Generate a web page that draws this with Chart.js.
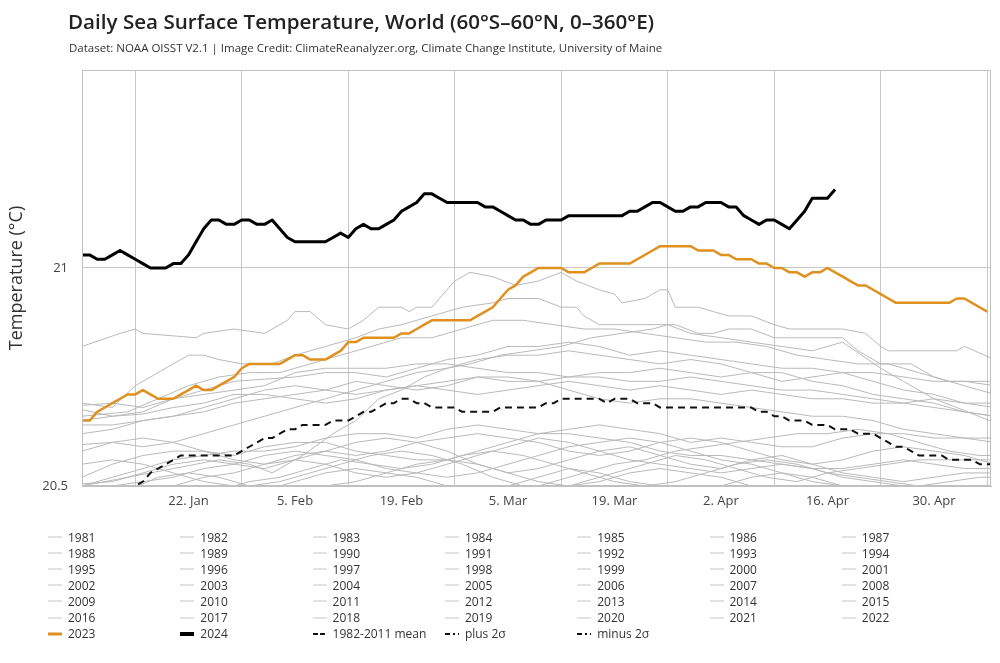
<!DOCTYPE html>
<html><head><meta charset="utf-8">
<script src="https://cdn.jsdelivr.net/npm/chart.js@4.4.1/dist/chart.umd.min.js"></script>
<style>
html,body{margin:0;padding:0;background:#fff;}
#wrap{position:relative;width:1000px;height:663px;overflow:hidden;font-family:'Open Sans',sans-serif;}
#c{position:absolute;left:0;top:0;}
#title{position:absolute;left:68px;top:7px;font-size:20.6px;font-weight:600;color:#222;white-space:nowrap;}
#sub{position:absolute;left:69px;top:40px;font-size:11.5px;color:#333;white-space:nowrap;}
#legend{position:absolute;left:0;top:0;width:1000px;height:663px;pointer-events:none;}
.li{position:absolute;font-size:12px;color:#333;white-space:nowrap;display:flex;align-items:center;height:16px;}
.li svg{margin-right:6px;display:block;}
</style></head>
<body>
<div id="wrap">
<canvas id="c" width="1000" height="663"></canvas>
<div id="title">Daily Sea Surface Temperature, World (60°S–60°N, 0–360°E)</div>
<div id="sub">Dataset: NOAA OISST V2.1 | Image Credit: ClimateReanalyzer.org, Climate Change Institute, University of Maine</div>
<div id="legend"></div>
</div>
<script>
// ---- x axis (day of year, non-leap calendar) ----
const xMin = 8, xMax = 127.5;
const gridDays = [15,29,43,57,71,85,99,113,127];
const tickDays = [22,36,50,64,78,92,106,120];
const tickLabels = ['22. Jan','5. Feb','19. Feb','5. Mar','19. Mar','2. Apr','16. Apr','30. Apr'];
const yMin = 20.5, yMax = 21.454;
const yTicks = [20.5, 21];

// ---- daily series ----
const start2024 = 8;
const sst2024 = [21.03,21.03,21.02,21.02,21.03,21.04,21.03,21.02,21.01,21.00,21.00,21.00,21.01,21.01,21.03,21.06,21.09,21.11,21.11,21.10,
21.10,21.11,21.11,21.10,21.10,21.11,21.09,21.07,21.06,21.06,21.06,21.06,21.06,21.07,21.08,21.07,21.09,21.10,21.09,21.09,
21.10,21.11,21.13,21.14,21.15,21.17,21.17,21.16,21.15,21.15,21.15,21.15,21.15,21.14,21.14,21.13,21.12,21.11,21.11,21.10,
21.10,21.11,21.11,21.11,21.12,21.12,21.12,21.12,21.12,21.12,21.12,21.12,21.13,21.13,21.14,21.15,21.15,21.14,21.13,21.13,
21.14,21.14,21.15,21.15,21.15,21.14,21.14,21.12,21.11,21.10,21.11,21.11,21.10,21.09,21.11,21.13,21.16,21.16,21.16,21.18];

const start2023 = 8;
const sst2023 = [20.65,20.65,20.67,20.68,20.69,20.70,20.71,20.71,20.72,20.71,20.70,20.70,20.70,20.71,20.72,20.73,20.72,20.72,20.73,20.74,
20.75,20.77,20.78,20.78,20.78,20.78,20.78,20.79,20.80,20.80,20.79,20.79,20.79,20.80,20.81,20.83,20.83,20.84,20.84,20.84,
20.84,20.84,20.85,20.85,20.86,20.87,20.88,20.88,20.88,20.88,20.88,20.88,20.89,20.90,20.91,20.93,20.95,20.96,20.98,20.99,
21.00,21.00,21.00,21.00,20.99,20.99,20.99,21.00,21.01,21.01,21.01,21.01,21.01,21.02,21.03,21.04,21.05,21.05,21.05,21.05,
21.05,21.04,21.04,21.04,21.03,21.03,21.02,21.02,21.02,21.01,21.01,21.00,21.00,20.99,20.99,20.98,20.99,20.99,21.00,20.99,
20.98,20.97,20.96,20.96,20.95,20.94,20.93,20.92,20.92,20.92,20.92,20.92,20.92,20.92,20.92,20.93,20.93,20.92,20.91,20.90];

const startMean = 14;
const mean8211 = [20.49,20.50,20.51,20.53,20.54,20.55,20.56,20.57,20.57,20.57,20.57,20.57,20.57,20.57,20.57,20.58,20.59,20.60,20.61,20.61,
20.62,20.63,20.63,20.64,20.64,20.64,20.64,20.65,20.65,20.65,20.66,20.67,20.67,20.68,20.69,20.69,20.70,20.70,20.69,20.69,
20.68,20.68,20.68,20.68,20.67,20.67,20.67,20.67,20.67,20.68,20.68,20.68,20.68,20.68,20.68,20.69,20.69,20.70,20.70,20.70,
20.70,20.70,20.70,20.69,20.70,20.70,20.70,20.69,20.69,20.69,20.68,20.68,20.68,20.68,20.68,20.68,20.68,20.68,20.68,20.68,
20.68,20.68,20.68,20.67,20.67,20.66,20.66,20.65,20.65,20.65,20.64,20.64,20.64,20.63,20.63,20.63,20.62,20.62,20.62,20.61,
20.60,20.59,20.59,20.58,20.57,20.57,20.57,20.57,20.56,20.56,20.56,20.56,20.55,20.55,20.55];
const plus2sigma = [];   // not visible in the picture
const minus2sigma = [];  // not visible in the picture

// ---- earlier years visible in the window: [day, value] ----
const sst2016 = [[8,20.82],[13,20.85],[15,20.86],[16,20.85],[23,20.84],[24,20.85],[28,20.86],[32,20.85],[35,20.88],[36,20.90],[38,20.90],[40,20.87],[43,20.86],[45,20.88],[47,20.91],[50,20.91],[51,20.90],[52,20.91],[54,20.91],[57,20.97],[59,20.99],[62,20.98],[65,20.96],[68,20.97],[71,20.99],[73,20.97],[76,20.95],[78,20.94],[79,20.92],[82,20.93],[84,20.95],[85,20.95],[86,20.91],[89,20.91],[91,20.90],[93,20.89],[96,20.89],[99,20.87],[101,20.86],[104,20.86],[108,20.86],[111,20.85],[113,20.82],[114,20.81],[123,20.81],[124,20.82],[128,20.79]];
const sst2020 = [[8,20.69],[12,20.68],[15,20.73],[18,20.76],[20,20.78],[22,20.80],[24,20.80],[26,20.79],[29,20.78],[33,20.78],[36,20.80],[40,20.82],[44,20.84],[47,20.86],[50,20.87],[54,20.89],[58,20.91],[62,20.92],[64,20.93],[68,20.93],[71,20.91],[73,20.91],[74,20.89],[76,20.87],[84,20.87],[86,20.87],[89,20.85],[91,20.85],[93,20.86],[96,20.86],[99,20.84],[103,20.84],[108,20.84],[110,20.81],[113,20.78],[117,20.78],[120,20.75],[122,20.74],[128,20.74]];
const sst2019 = [[8,20.66],[14,20.67],[18,20.70],[22,20.73],[26,20.75],[30,20.76],[34,20.76],[38,20.78],[42,20.80],[46,20.82],[50,20.84],[54,20.84],[58,20.86],[62,20.88],[66,20.88],[70,20.87],[74,20.86],[78,20.86],[82,20.85],[86,20.84],[90,20.83],[94,20.83],[98,20.82],[102,20.80],[106,20.79],[110,20.78],[114,20.78],[118,20.76],[122,20.74],[126,20.72],[128,20.71]];
const sst2017 = [[8,20.675],[12,20.66],[16,20.67],[20,20.70],[24,20.72],[28,20.74],[32,20.745],[36,20.75],[40,20.76],[44,20.76],[48,20.75],[52,20.77],[56,20.79],[60,20.80],[64,20.82],[68,20.82],[72,20.83],[76,20.82],[80,20.80],[84,20.81],[88,20.80],[92,20.79],[96,20.78],[100,20.77],[104,20.77],[108,20.76],[112,20.74],[116,20.72],[120,20.71],[124,20.69],[128,20.68]];
const sst2015 = [[8,20.595],[12,20.60],[16,20.59],[20,20.60],[24,20.62],[28,20.64],[32,20.66],[36,20.68],[40,20.70],[44,20.72],[48,20.74],[52,20.76],[56,20.77],[60,20.79],[64,20.80],[68,20.80],[72,20.81],[76,20.80],[80,20.79],[84,20.78],[88,20.79],[92,20.78],[96,20.76],[100,20.74],[104,20.75],[108,20.76],[112,20.76],[116,20.75],[120,20.74],[124,20.74],[128,20.73]];
const sst2018 = [[8,20.685],[12,20.69],[16,20.68],[20,20.70],[24,20.71],[28,20.72],[32,20.73],[36,20.76],[40,20.77],[44,20.77],[48,20.77],[52,20.78],[56,20.78],[60,20.77],[64,20.76],[68,20.76],[72,20.75],[76,20.75],[80,20.74],[84,20.74],[88,20.75],[92,20.74],[96,20.73],[100,20.72],[104,20.72],[108,20.71],[112,20.70],[116,20.69],[120,20.68],[124,20.67],[128,20.66]];
const sst2021 = [[8,20.64],[12,20.64],[16,20.65],[20,20.66],[24,20.68],[28,20.70],[32,20.72],[36,20.73],[40,20.72],[44,20.71],[48,20.72],[52,20.73],[56,20.74],[60,20.75],[64,20.74],[68,20.74],[72,20.75],[76,20.76],[80,20.76],[84,20.77],[88,20.76],[92,20.75],[96,20.76],[100,20.76],[104,20.74],[108,20.73],[112,20.71],[116,20.70],[120,20.69],[124,20.67],[128,20.66]];
const sst2022 = [[8,20.65],[12,20.66],[16,20.665],[20,20.68],[24,20.69],[28,20.71],[32,20.71],[36,20.70],[40,20.69],[44,20.70],[48,20.72],[52,20.73],[56,20.72],[60,20.71],[64,20.72],[68,20.73],[72,20.74],[76,20.73],[80,20.72],[84,20.73],[88,20.72],[92,20.71],[96,20.72],[100,20.71],[104,20.70],[108,20.70],[112,20.69],[116,20.69],[120,20.70],[124,20.69],[128,20.69]];
const sst1998 = [[8,20.50],[14,20.52],[20,20.54],[26,20.56],[30,20.55],[33,20.53],[37,20.57],[41,20.62],[44,20.65],[47,20.70],[50,20.72],[53,20.75],[56,20.77],[59,20.78],[63,20.80],[67,20.81],[71,20.82],[75,20.84],[79,20.85],[83,20.86],[85,20.87],[88,20.85],[92,20.84],[96,20.83],[100,20.82],[104,20.81],[108,20.83],[113,20.77],[116,20.74],[120,20.70],[123,20.68],[128,20.645]];
const sst2010 = [[8,20.62],[12,20.63],[16,20.65],[20,20.66],[24,20.67],[28,20.69],[32,20.70],[36,20.71],[40,20.72],[44,20.74],[48,20.73],[52,20.72],[56,20.73],[60,20.75],[64,20.75],[68,20.74],[72,20.72],[76,20.70],[80,20.69],[84,20.70],[88,20.70],[92,20.69],[96,20.68],[100,20.67],[104,20.66],[108,20.66],[112,20.65],[116,20.63],[120,20.62],[124,20.61],[128,20.60]];
const sst2014 = [[8,20.52],[12,20.55],[16,20.57],[20,20.58],[24,20.58],[28,20.57],[32,20.59],[36,20.60],[40,20.60],[44,20.58],[48,20.57],[52,20.56],[56,20.56],[60,20.58],[64,20.60],[68,20.62],[72,20.63],[76,20.64],[80,20.63],[84,20.62],[88,20.60],[92,20.61],[96,20.60],[100,20.59],[104,20.59],[108,20.61],[112,20.62],[116,20.62],[120,20.61],[128,20.61]];
const sst2013 = [[8,20.505],[12,20.51],[16,20.53],[20,20.55],[24,20.56],[28,20.55],[32,20.54],[36,20.56],[40,20.58],[44,20.60],[48,20.61],[52,20.60],[56,20.58],[60,20.55],[64,20.53],[68,20.54],[72,20.56],[76,20.58],[80,20.59],[84,20.57],[88,20.55],[92,20.54],[96,20.56],[100,20.57],[104,20.55],[108,20.53],[112,20.52],[116,20.51],[120,20.52],[124,20.53],[128,20.53]];
const sst2012 = [[8,20.47],[14,20.49],[18,20.52],[22,20.53],[26,20.52],[30,20.50],[34,20.51],[38,20.53],[42,20.55],[46,20.57],[50,20.58],[54,20.57],[58,20.55],[62,20.52],[66,20.50],[70,20.49],[74,20.51],[78,20.53],[82,20.55],[86,20.57],[90,20.56],[94,20.54],[98,20.52],[102,20.51],[106,20.53],[110,20.54],[114,20.55],[118,20.56],[128,20.56]];
const sst2011 = [[8,20.55],[12,20.56],[16,20.55],[20,20.53],[24,20.51],[28,20.50],[32,20.49],[36,20.51],[40,20.53],[44,20.54],[48,20.53],[52,20.52],[56,20.50],[60,20.49],[64,20.50],[68,20.52],[72,20.54],[76,20.53],[80,20.51],[84,20.50],[88,20.49],[92,20.50],[96,20.52],[100,20.53],[104,20.52],[108,20.50],[112,20.49],[116,20.48]];
const sst2009 = [[8,20.46],[16,20.48],[20,20.50],[24,20.52],[28,20.53],[32,20.55],[36,20.57],[40,20.58],[44,20.57],[48,20.58],[52,20.60],[56,20.61],[60,20.62],[64,20.61],[68,20.60],[72,20.58],[76,20.57],[80,20.58],[84,20.60],[88,20.61],[92,20.60],[96,20.58],[100,20.56],[104,20.55],[108,20.56],[112,20.58],[116,20.59],[120,20.58],[124,20.57],[128,20.55]];
const sst2007 = [[8,20.58],[12,20.60],[16,20.61],[20,20.60],[24,20.58],[28,20.56],[32,20.55],[36,20.56],[40,20.55],[44,20.53],[48,20.52],[52,20.53],[56,20.55],[60,20.57],[64,20.59],[68,20.61],[72,20.60],[76,20.58],[80,20.56],[84,20.55],[88,20.54],[92,20.53],[96,20.54],[100,20.55],[104,20.54],[108,20.52],[112,20.51],[116,20.50],[120,20.49]];
const sst2005 = [[8,20.50],[12,20.52],[16,20.54],[20,20.56],[24,20.57],[28,20.58],[32,20.58],[36,20.59],[40,20.61],[44,20.62],[48,20.62],[52,20.61],[56,20.63],[60,20.64],[64,20.63],[68,20.62],[72,20.62],[76,20.61],[80,20.60],[84,20.58],[88,20.57],[92,20.57],[96,20.56],[100,20.55],[104,20.54],[108,20.54],[112,20.55],[116,20.56],[120,20.55],[124,20.54],[128,20.54]];
const sst2003 = [[8,20.49],[12,20.50],[16,20.51],[20,20.52],[24,20.54],[28,20.55],[32,20.57],[36,20.58],[40,20.57],[44,20.56],[48,20.54],[52,20.53],[56,20.52],[60,20.53],[64,20.55],[68,20.57],[72,20.59],[76,20.60],[80,20.61],[84,20.60],[88,20.58],[92,20.56],[96,20.55],[100,20.53],[104,20.51],[108,20.50],[112,20.49]];
const sst2002 = [[8,20.45],[20,20.47],[26,20.49],[30,20.51],[34,20.52],[38,20.54],[42,20.56],[46,20.55],[50,20.54],[54,20.55],[58,20.57],[62,20.58],[66,20.57],[70,20.55],[74,20.53],[78,20.51],[82,20.50],[86,20.51],[90,20.53],[94,20.55],[98,20.56],[102,20.55],[106,20.53],[110,20.52],[114,20.51],[118,20.50],[122,20.51],[126,20.52],[128,20.52]];
const sst2006 = [[8,20.44],[30,20.46],[36,20.48],[40,20.50],[44,20.51],[48,20.53],[52,20.55],[56,20.56],[60,20.55],[64,20.53],[68,20.51],[72,20.50],[76,20.51],[80,20.53],[84,20.54],[88,20.53],[92,20.52],[96,20.50],[100,20.49]];
const sst1997 = [[60,20.47],[66,20.49],[70,20.51],[74,20.53],[78,20.55],[82,20.56],[86,20.58],[90,20.59],[94,20.60],[98,20.61],[102,20.62],[106,20.62],[110,20.63],[114,20.62],[118,20.60],[122,20.58],[126,20.57],[128,20.57]];

const greyYears = [1981,1982,1983,1984,1985,1986,1987,1988,1989,1990,1991,1992,1993,1994,1995,1996,1997,1998,1999,2000,
2001,2002,2003,2004,2005,2006,2007,2008,2009,2010,2011,2012,2013,2014,2015,2016,2017,2018,2019,2020,2021,2022];
const greyData = {1997:sst1997,1998:sst1998,2002:sst2002,2003:sst2003,2005:sst2005,2006:sst2006,2007:sst2007,2009:sst2009,
2010:sst2010,2011:sst2011,2012:sst2012,2013:sst2013,2014:sst2014,2015:sst2015,2016:sst2016,2017:sst2017,2018:sst2018,
2019:sst2019,2020:sst2020,2021:sst2021,2022:sst2022};

const daily = (arr, s) => arr.map((v,i)=>({x:s+i, y:v}));
const pairs = arr => arr.map(p=>({x:p[0], y:p[1]}));

const datasets = [];
greyYears.forEach(y => datasets.push({label:String(y), data:pairs(greyData[y]||[]), borderColor:'#b9b9b9', borderWidth:1, order:10, legendW:1, legendColor:'#c4c4c4'}));
datasets.push({label:'2023', data:daily(sst2023,start2023), borderColor:'#e0901f', borderWidth:2.5, order:2, legendW:3});
datasets.push({label:'2024', data:daily(sst2024,start2024), borderColor:'#000000', borderWidth:3, order:1, legendW:4});
datasets.push({label:'1982-2011 mean', data:daily(mean8211,startMean), borderColor:'#111111', borderWidth:2, borderDash:[7,5], order:3, legendW:2, legendDash:'5,2'});
datasets.push({label:'plus 2σ', data:pairs(plus2sigma), borderColor:'#111111', borderWidth:2, borderDash:[7,4,2,4], order:4, legendW:2, legendDash:'5,3,2,3'});
datasets.push({label:'minus 2σ', data:pairs(minus2sigma), borderColor:'#111111', borderWidth:2, borderDash:[7,4,2,4], order:5, legendW:2, legendDash:'5,3,2,3'});
datasets.forEach(d => { d.clip = 0; d.pointRadius = 0; d.fill = false; });

const framePlugin = {id:'frame', afterDatasetsDraw(c){
  const a = c.chartArea, g = c.ctx;
  g.save(); g.strokeStyle = '#c0c0c0'; g.lineWidth = 1;
  g.strokeRect(Math.round(a.left)+0.5, Math.round(a.top)+0.5, Math.round(a.right-a.left)-1, Math.round(a.bottom-a.top)-1);
  g.restore();
}};

const chart = new Chart(document.getElementById('c'), {
  type:'line',
  data:{datasets},
  plugins:[framePlugin],
  options:{
    responsive:false, animation:false, parsing:true,
    layout:{padding:{top:70, right:9, bottom:147, left:0}},
    plugins:{legend:{display:false}, tooltip:{enabled:false}, title:{display:false}},
    elements:{point:{radius:0}, line:{tension:0, borderJoinStyle:'round'}},
    scales:{
      x:{type:'linear', min:xMin, max:xMax, position:'bottom',
        afterBuildTicks:s=>{ s.ticks = gridDays.map(v=>({value:v})); },
        afterFit:s=>{ s.height = 0; },
        ticks:{display:false}, grid:{color:'#c8c8c8', lineWidth:1, drawTicks:false}, border:{color:'#c0c0c0'}},
      xl:{type:'linear', min:xMin, max:xMax, position:'bottom',
        afterBuildTicks:s=>{ s.ticks = tickDays.map(v=>({value:v})); },
        afterFit:s=>{ s.height = 30; },
        ticks:{autoSkip:false, maxRotation:0, padding:7, color:'#444', font:{family:'Open Sans', size:13},
          callback:(v,i)=>tickLabels[i]},
        grid:{display:false, drawTicks:false}, border:{display:false}},
      y:{type:'linear', min:yMin, max:yMax,
        afterBuildTicks:s=>{ s.ticks = yTicks.map(v=>({value:v})); },
        afterFit:s=>{ s.width = 82; },
        ticks:{padding:14, color:'#444', font:{family:'Open Sans', size:13}, callback:v=>String(v)},
        grid:{color:'#c8c8c8', drawTicks:false}, border:{color:'#c0c0c0'},
        title:{display:true, text:'Temperature (°C)', color:'#333', font:{family:'Open Sans', size:18}, padding:{top:6, bottom:0}}}
    }
  }
});

// ---- HTML legend built from the chart's datasets ----
const leg = document.getElementById('legend');
chart.data.datasets.forEach((d,i) => {
  const col = i % 7, row = Math.floor(i / 7);
  const el = document.createElement('div');
  el.className = 'li';
  el.style.left = (48 + 132.3*col) + 'px';
  el.style.top = (529 + 16.1*row) + 'px';
  const dash = d.legendDash ? ` stroke-dasharray="${d.legendDash}"` : '';
  const col2 = d.legendColor || d.borderColor;
  el.innerHTML = `<svg width="14" height="8"><line x1="0" y1="4" x2="14" y2="4" stroke="${col2}" stroke-width="${d.legendW}"${dash}/></svg><span>${d.label}</span>`;
  leg.appendChild(el);
});
</script>
</body></html>
